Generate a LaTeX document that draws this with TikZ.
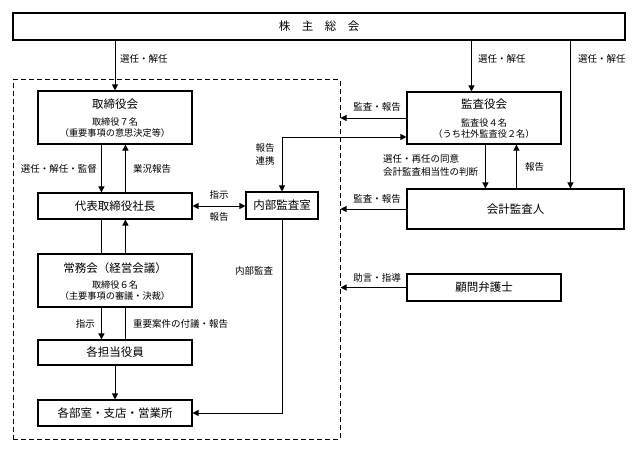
\documentclass[tikz,border=0pt]{standalone}
\usepackage{fontspec}
\setmainfont{Noto Sans CJK JP}
\usetikzlibrary{arrows.meta,calc}
\begin{document}
\begin{tikzpicture}[x=1pt,y=-1pt,
  box/.style={draw,line width=1.1pt,rectangle,inner sep=0pt},
  title/.style={font=\fontsize{11.5}{12}\selectfont,inner sep=0pt},
  sub/.style={font=\fontsize{9.2}{11}\selectfont,inner sep=0pt,align=center},
  lab/.style={font=\fontsize{9.5}{13}\selectfont,inner sep=0pt},
  arr/.style={line width=1pt,-{Triangle[length=6pt,width=6pt]}},
  ln/.style={line width=1pt},
  darr/.style={line width=1pt,{Triangle[length=6pt,width=6pt]}-{Triangle[length=6pt,width=6pt]}}]

\useasboundingbox (0,0) rectangle (640,452);

% group (dashed)
\node[draw,line width=1pt,dash pattern=on 5pt off 3pt,rectangle,minimum width=327pt,minimum height=359pt,inner sep=0pt] (grp) at (176.5,259.5) {};

% boxes
\node[box,minimum width=612pt,minimum height=27pt] (sh) at (319,26.5) {};
\node[title] at (sh.center) {株　主　総　会};

\node[box,minimum width=154pt,minimum height=53pt] (tb) at (115,117.5) {};
\node[title] at (115,104) {取締役会};
\node[sub] at (115,128) {取締役７名\\（重要事項の意思決定等）};

\node[box,minimum width=154pt,minimum height=26pt] (pres) at (115,206) {};
\node[title] at (pres.center) {代表取締役社長};

\node[box,minimum width=154pt,minimum height=53pt] (jm) at (115,280.5) {};
\node[title] at (115,268) {常務会（経営会議）};
\node[sub] at (115,290.5) {取締役６名\\（主要事項の審議・決裁）};

\node[box,minimum width=154pt,minimum height=25pt] (kt) at (115,352.5) {};
\node[title] at (kt.center) {各担当役員};

\node[box,minimum width=154pt,minimum height=26pt] (bu) at (115,413) {};
\node[title] at (bu.center) {各部室・支店・営業所};

\node[box,minimum width=72pt,minimum height=27pt] (ia) at (282,205.5) {};
\node[title] at (ia.center) {内部監査室};

\node[box,minimum width=154pt,minimum height=52pt] (kk) at (484,118) {};
\node[title] at (484,104) {監査役会};
\node[sub] at (484,128.5) {監査役４名\\（うち社外監査役２名）};

\node[box,minimum width=217pt,minimum height=40pt] (ka) at (515.5,209) {};
\node[title] at (ka.center) {会計監査人};

\node[box,minimum width=154pt,minimum height=27pt] (law) at (484,287.5) {};
\node[title] at (law.center) {顧問弁護士};

% coordinates
\coordinate (kkin) at ([xshift=65pt]kk.north west);
\coordinate (kain) at ([xshift=164pt]ka.north west);
\coordinate (L) at ([xshift=64pt]tb.south west);
\coordinate (R) at ([xshift=88pt]tb.south west);
\coordinate (kkl) at ([yshift=-19pt]kk.west);
\coordinate (kd) at ([xshift=79pt]kk.south west);
\coordinate (ku) at ([xshift=110pt]kk.south west);

% connectors
\draw[arr] (sh.south -| tb.north) -- (tb.north);
\draw[arr] (sh.south -| kkin) -- (kkin);
\draw[arr] (sh.south -| kain) -- (kain);

\draw[arr] (L) -- (L |- pres.north);
\draw[arr] (R |- pres.north) -- (R);
\draw[ln] (L |- pres.south) -- (L |- jm.north);
\draw[arr] (R |- jm.north) -- (R |- pres.south);
\draw[arr] (L |- jm.south) -- (L |- kt.north);
\draw[ln] (R |- jm.south) -- (R |- kt.north);
\draw[arr] (kt.south) -- (bu.north);

\draw[darr] (pres.east) -- (pres.east -| ia.west);
\draw[darr] (kkl) -| (ia.north);
\draw[arr] (ia.south) |- (bu.east);

\draw[arr] (kk.west) -- (kk.west -| grp.east);
\draw[arr] (ka.west) -- (ka.west -| grp.east);
\draw[arr] (law.west) -- (law.west -| grp.east);

\draw[arr] (kd) -- (kd |- ka.north);
\draw[arr] (ku |- ka.north) -- (ku);

% labels
\node[lab,anchor=west] at (120,59) {選任・解任};
\node[lab,anchor=west] at (478,59) {選任・解任};
\node[lab,anchor=west] at (578,59) {選任・解任};
\node[lab,anchor=east] at (97,169) {選任・解任・監督};
\node[lab,anchor=west] at (133,169) {業況報告};
\node[lab] at (219,195) {指示};
\node[lab] at (219,217) {報告};
\node[lab,align=center] at (265,154.5) {報告\\連携};
\node[lab] at (377,107) {監査・報告};
\node[lab,align=left,anchor=west] at (383,165.5) {選任・再任の同意\\会計監査相当性の判断};
\node[lab,anchor=west] at (525,167) {報告};
\node[lab] at (377,199) {監査・報告};
\node[lab] at (377,278) {助言・指導};
\node[lab] at (254,271) {内部監査};
\node[lab,anchor=east] at (95,324) {指示};
\node[lab,anchor=west] at (133,324) {重要案件の付議・報告};
\end{tikzpicture}
\end{document}
